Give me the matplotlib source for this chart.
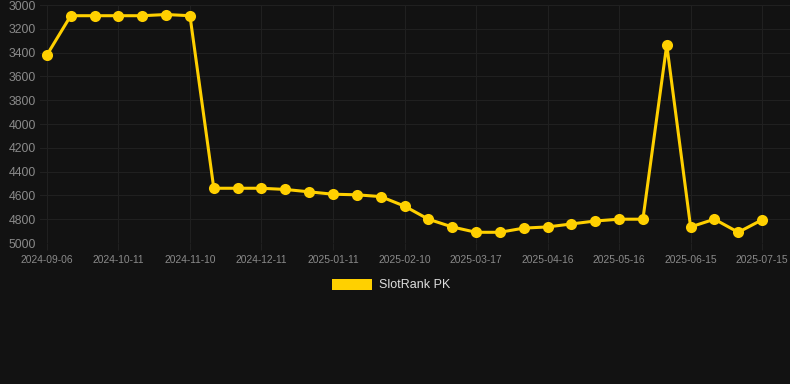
import matplotlib
matplotlib.use("Agg")
import matplotlib.pyplot as plt
from matplotlib.patches import Patch

plt.rcParams["font.family"] = ["Liberation Sans", "DejaVu Sans"]

dates = [
    "2024-09-06", "2024-09-18", "2024-09-30", "2024-10-11", "2024-10-21",
    "2024-10-31", "2024-11-10", "2024-11-20", "2024-12-01", "2024-12-11",
    "2024-12-21", "2025-01-01", "2025-01-11", "2025-01-21", "2025-01-31",
    "2025-02-10", "2025-02-22", "2025-03-05", "2025-03-17", "2025-03-27",
    "2025-04-06", "2025-04-16", "2025-04-26", "2025-05-06", "2025-05-16",
    "2025-05-26", "2025-06-05", "2025-06-15", "2025-06-25", "2025-07-05",
    "2025-07-15",
]
rank = [
    3420, 3090, 3090, 3090, 3090, 3080, 3090, 4540, 4540, 4540,
    4550, 4570, 4590, 4595, 4610, 4690, 4800, 4865, 4910, 4910,
    4875, 4865, 4840, 4815, 4800, 4800, 3335, 4865, 4800, 4910,
    4805,
]
y_ticks = [3000, 3200, 3400, 3600, 3800, 4000, 4200, 4400, 4600, 4800, 5000]

bg = "#121212"
grid_c = "#202020"
gold = "#FFD000"

fig = plt.figure(figsize=(7.9, 3.84), dpi=100, facecolor=bg)
ax = fig.add_axes([40 / 790, 1 - 243 / 384, 750 / 790, 238 / 384])
ax.set_facecolor(bg)

x = list(range(len(dates)))
ax.plot(x, rank, color=gold, lw=2.2, marker="o", ms=8,
        markeredgewidth=0, zorder=3, solid_joinstyle="miter")

ax.set_ylim(5000, 3000)
ax.set_yticks(y_ticks)
ax.set_xlim(-0.29, 31.17)
ax.set_xticks(x[::3])
ax.set_xticklabels(dates[::3])

ax.grid(True, color=grid_c, lw=0.8)
for s in ax.spines.values():
    s.set_visible(False)
ax.tick_params(axis="y", length=0, pad=3, labelsize=8.8, labelcolor="#8a8a8a")
ax.tick_params(axis="x", length=5, color=grid_c, pad=3.5, labelsize=7.4,
               labelcolor="#8a8a8a")

handle = Patch(facecolor=gold, edgecolor="none")
fig.legend([handle], ["SlotRank PK"], loc="center", bbox_to_anchor=(0.495, 1 - 285 / 384),
           frameon=False, fontsize=9, labelcolor="#dddddd",
           handlelength=3.2, handleheight=1.0, handletextpad=0.5)

fig.savefig("out.png", dpi=100, facecolor=bg)
